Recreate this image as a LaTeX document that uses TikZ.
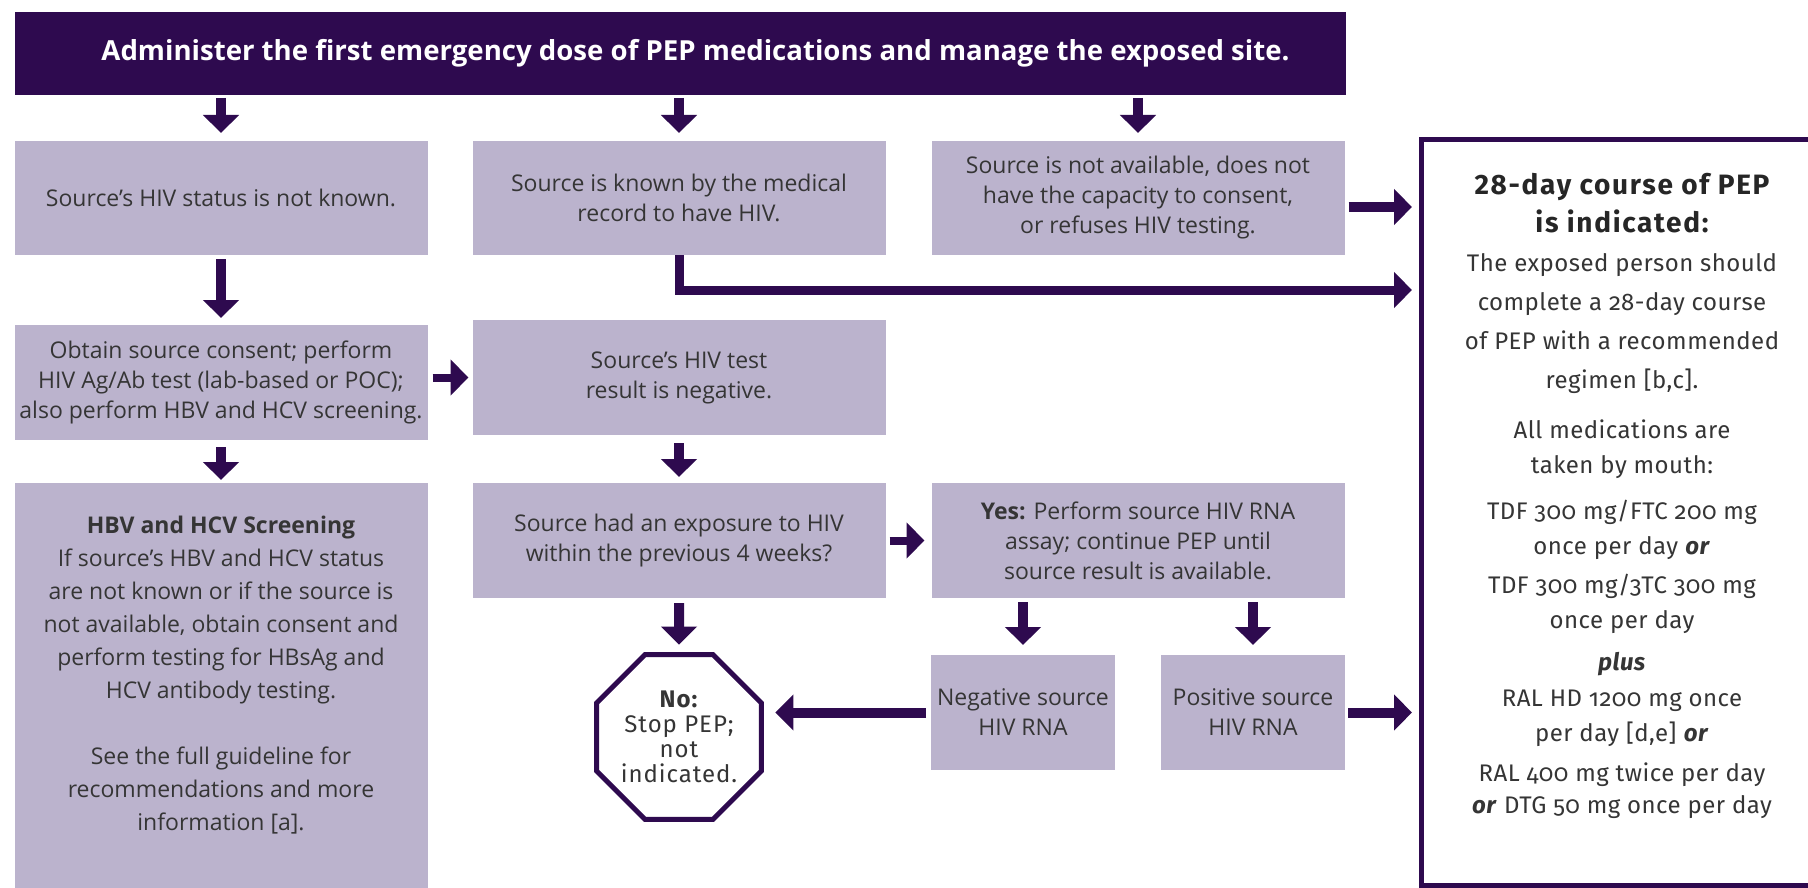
\documentclass[tikz,border=0pt]{standalone}
\usepackage{fontspec}
\setmainfont{Open Sans}
\newfontfamily\rfont[Numbers=OldStyle,LetterSpace=2]{Fira Sans}
\newfontfamily\rtitlefont[LetterSpace=6]{Fira Sans}
\newfontfamily\octfont[LetterSpace=4]{Fira Sans}
\usepackage{xcolor}
\usetikzlibrary{arrows.meta,shapes.geometric,calc}

\definecolor{pepdark}{HTML}{2E0A4F}
\definecolor{peplight}{HTML}{BBB3CD}
\definecolor{peptext}{HTML}{353535}

\begin{document}
\begin{tikzpicture}[x=1pt,y=-1pt,
  box/.style={fill=peplight,text=peptext,align=center,inner sep=0pt,outer sep=0pt,
    minimum width=413pt,minimum height=115pt,font=\fontsize{23}{30}\selectfont},
  arr/.style={pepdark,line width=10pt,-{Triangle[length=18pt,width=35pt]}},
  rtext/.style={align=center,text=peptext,inner sep=0pt,font=\rfont\fontsize{24}{35}\selectfont}]

\fill[white] (0,0) rectangle (1808,888);
\useasboundingbox (0,0) rectangle (1808,888);

\node (bar) at (680.5,53.5) [fill=pepdark,text=white,inner sep=0pt,outer sep=0pt,
  minimum width=1331pt,minimum height=83pt,font=\bfseries\fontsize{27.6}{30}\selectfont]
  {\hspace*{30pt}Administer the first emergency dose of PEP medications and manage the exposed site.};

\node (A) at (221,198) [box,minimum height=114pt] {Source’s HIV status is not known.};
\node (B) at (679,198) [box,minimum height=114pt] {Source is known by the medical\\record to have HIV.};
\node (C) at (1138,198) [box,minimum height=114pt] {Source is not available, does not\\have the capacity to consent,\\or refuses HIV testing.};

\node (D) at (221,382.5) [box] {Obtain source consent; perform\\HIV Ag/Ab test (lab-based or POC);\\also perform HBV and HCV screening.};
\node (E) at (679,377.5) [box] {Source’s HIV test\\result is negative.};

\node (H) at (221,685.5) [box,minimum height=405pt] {};
\node (Htxt) at (221,675) [align=center,text=peptext,inner sep=0pt,font=\fontsize{23}{33}\selectfont]
  {\textbf{HBV and HCV Screening}\\If source’s HBV and HCV status\\are not known or if the source is\\not available, obtain consent and\\perform testing for HBsAg and\\HCV antibody testing.\\[33pt]See the full guideline for\\recommendations and more\\information [a].};

\node (F) at (679,540.5) [box] {Source had an exposure to HIV\\within the previous 4 weeks?};
\node (G) at (1138,540.5) [box] {\textbf{Yes:} Perform source HIV RNA\\assay; continue PEP until\\source result is available.};

\node (Neg) at (1023,712.5) [box,minimum width=184pt] {Negative source\\HIV RNA};
\node (Pos) at (1253,712.5) [box,minimum width=184pt] {Positive source\\HIV RNA};

\node (oct) at (679,737) [regular polygon,regular polygon sides=8,minimum size=172pt,
  draw=pepdark,line width=5pt,fill=white,inner sep=0pt,outer sep=0pt,align=center,
  text=peptext,font=\octfont\fontsize{24}{25}\selectfont]
  {\textbf{No:}\\Stop PEP;\\not\\indicated.};

\node (R) at (1625,512.5) [draw=pepdark,line width=5pt,fill=white,inner sep=0pt,outer sep=0pt,
  minimum width=408pt,minimum height=745pt] {};
\node (rtitle) at (1622,203.5) [rtext,text=black!85,font=\rtitlefont\bfseries\fontsize{28}{38}\selectfont]
  {28-day course of PEP\\is indicated:};
\node (rbody) at (1622,324) [rtext,font=\rfont\fontsize{24}{39}\selectfont]
  {The exposed person should\\complete a 28-day course\\of PEP with a recommended\\regimen [b,c].};
\node (rmeds) at (1622,449) [rtext] {All medications are\\taken by mouth:};
\node (rtdf1) at (1622,530) [rtext] {TDF 300 mg/FTC 200 mg\\once per day \textbf{\textit{or}}};
\node (rtdf2) at (1622,604) [rtext] {TDF 300 mg/3TC 300 mg\\once per day};
\node (rplus) at (1622,664) [rtext] {\textbf{\textit{plus}}};
\node (rral1) at (1622,718) [rtext] {RAL HD 1200 mg once\\per day [d,e] \textbf{\textit{or}}};
\node (rral2) at (1622,791) [rtext,font=\rfont\fontsize{24}{32}\selectfont] {RAL 400 mg twice per day\\\textbf{\textit{or}} DTG 50 mg once per day};

\foreach \n in {A,B,C}
  \draw[arr,shorten <=3pt,shorten >=8pt] (bar.south -| \n.north) -- (\n.north);

\draw[arr,shorten <=4pt,shorten >=7pt] (A) -- (D);
\draw[arr,shorten <=7pt,shorten >=3pt] (D) -- (H);
\draw[arr,line width=8pt,shorten <=5pt,shorten >=4pt] (D.east |- E) -- (E.west);
\draw[arr,shorten <=8pt,shorten >=6pt] (E) -- (F);
\draw[arr,line width=8pt,shorten <=4pt,shorten >=7pt] (F) -- (G);
\draw[arr,shorten <=5pt,shorten >=10pt] (F) -- (oct);
\draw[arr,shorten <=4pt,shorten >=10pt] (G.south -| Neg) -- (Neg);
\draw[arr,shorten <=4pt,shorten >=10pt] (G.south -| Pos) -- (Pos);
\draw[arr,shorten <=5pt,shorten >=14pt] (Neg.west) -- (oct.east |- Neg.west);
\draw[arr,shorten <=3pt,shorten >=9pt] (Pos.east) -- (R.west |- Pos.east);

\coordinate (cr) at ($(C.east)+(0,9)$);
\draw[arr,shorten <=4pt,shorten >=9pt] (cr) -- (cr -| R.west);
\coordinate (rin) at (1421,290);
\draw[arr,line width=9pt,shorten >=9pt] (B.south) |- (rin);

\end{tikzpicture}
\end{document}
